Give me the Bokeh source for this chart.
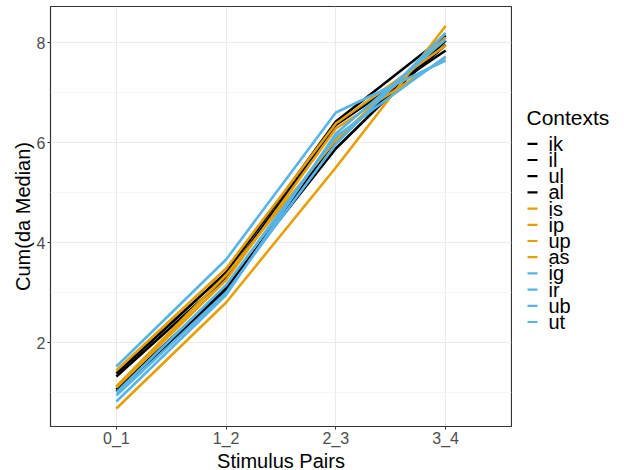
from bokeh.plotting import figure
from bokeh.layouts import row
from bokeh.models import Range1d, FixedTicker
from bokeh.core.properties import value
from bokeh.embed import file_html
from bokeh.resources import INLINE

# ---- data ----
pairs = ["0_1", "1_2", "2_3", "3_4"]
x_pos = [1, 2, 3, 4]

contexts = ["ik", "il", "ul", "al", "is", "ip", "up", "as", "ig", "ir", "ub", "ut"]

ik = [1.38, 3.40, 6.42, 8.14]
il = [1.32, 3.30, 6.35, 7.84]
ul = [1.06, 3.10, 5.88, 8.04]
al = [1.02, 3.05, 6.05, 7.95]
is_ = [1.44, 3.48, 6.38, 7.94]
ip = [1.10, 3.25, 6.28, 7.70]
up = [1.12, 3.35, 6.05, 8.10]
as_ = [0.68, 2.80, 5.50, 8.33]
ig = [1.52, 3.66, 6.60, 7.64]
ir = [0.94, 3.00, 5.97, 8.19]
ub = [0.82, 2.95, 6.18, 8.06]
ut = [1.00, 3.15, 6.12, 7.72]

series = [ik, il, ul, al, is_, ip, up, as_, ig, ir, ub, ut]
group_colors = ["#000000"] * 4 + ["#E69F00"] * 4 + ["#56B4E9"] * 4

y_ticks = [2, 4, 6, 8]
y_minor = [1, 3, 5, 7]

FONT = "Liberation Sans"

TOP = 6
FRAME_H = 420

# ---- main panel ----
p = figure(
    frame_width=461, frame_height=FRAME_H,
    x_range=Range1d(0.4, 4.6), y_range=Range1d(0.32, 8.72),
    output_backend="svg", toolbar_location=None,
    min_border_left=50, min_border_top=TOP, min_border_bottom=0, min_border_right=1,
    background_fill_color="white", border_fill_color="white",
)

for name, vals, col in zip(contexts, series, group_colors):
    p.line(x_pos, vals, line_color=col, line_width=2.6)

p.outline_line_color = "#333333"
p.outline_line_width = 1.2

p.xaxis.ticker = FixedTicker(ticks=x_pos)
p.xaxis.major_label_overrides = {x: s for x, s in zip(x_pos, pairs)}
p.yaxis.ticker = FixedTicker(ticks=y_ticks, minor_ticks=y_minor)

for ax in (p.xaxis[0], p.yaxis[0]):
    ax.axis_line_color = None
    ax.major_tick_line_color = "#333333"
    ax.major_tick_out = 3
    ax.major_tick_in = 0
    ax.minor_tick_line_color = None
    ax.major_label_text_font = FONT
    ax.major_label_text_font_size = "16px"
    ax.major_label_text_color = "#4D4D4D"
    ax.axis_label_text_font = FONT
    ax.axis_label_text_font_size = "20px"
    ax.axis_label_text_font_style = "normal"
    ax.axis_label_text_color = "#000000"

p.xaxis.major_label_standoff = 0
p.xaxis.axis_label_standoff = 0
p.yaxis.major_label_standoff = 1
p.yaxis.axis_label_standoff = 0

p.xaxis.axis_label = "Stimulus Pairs"
p.yaxis.axis_label = "Cum(da Median)"

p.xgrid.ticker = FixedTicker(ticks=x_pos)
p.xgrid.grid_line_color = "#EBEBEB"
p.xgrid.grid_line_width = 1.1
p.ygrid.ticker = FixedTicker(ticks=y_ticks, minor_ticks=y_minor)
p.ygrid.grid_line_color = "#EBEBEB"
p.ygrid.grid_line_width = 1.1
p.ygrid.minor_grid_line_color = "#F2F2F2"
p.ygrid.minor_grid_line_width = 0.8

# ---- legend panel (page-pixel coordinates, frame aligned with main frame) ----
leg = figure(
    frame_width=112, frame_height=FRAME_H,
    x_range=Range1d(0, 112), y_range=Range1d(TOP + FRAME_H, TOP),
    output_backend="svg", toolbar_location=None,
    x_axis_location=None, y_axis_location=None,
    min_border_left=0, min_border_right=0, min_border_top=TOP, min_border_bottom=0,
    outline_line_color=None,
)
leg.xgrid.visible = False
leg.ygrid.visible = False

row_y0 = 143.3
row_step = 16.2
row_ys = [row_y0 + i * row_step for i in range(len(contexts))]

leg.text(x=[14], y=[117], text=["Contexts"], text_font=value(FONT),
         text_font_size="21px", text_baseline="middle", text_align="left",
         text_color="#000000")
leg.segment(x0=[15] * len(contexts), x1=[25] * len(contexts), y0=row_ys, y1=row_ys,
            line_color=group_colors, line_width=2.2)
leg.text(x=[36] * len(contexts), y=row_ys, text=contexts, text_font=value(FONT),
         text_font_size="20px", text_baseline="middle", text_align="left",
         text_color="#000000")

layout = row(p, leg, spacing=0)

open("out.html", "w").write(file_html(layout, INLINE))
